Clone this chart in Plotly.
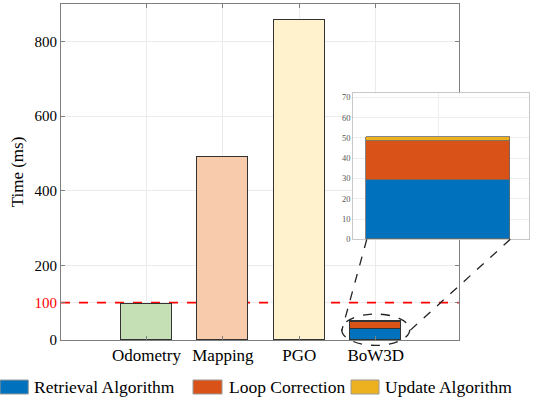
import plotly.graph_objects as go

# ---------------- data ----------------
categories = ["Odometry", "Mapping", "PGO", "BoW3D"]
module_times = [97, 490, 857]            # Odometry, Mapping, PGO (ms)
module_colors = ["#C5E0B4", "#F8CBAD", "#FFF2CC"]
bow3d_parts = ["Retrieval Algorithm", "Loop Correction", "Update Algorithm"]
bow3d_values = [29.1, 19.2, 1.8]          # ms
bow3d_colors = ["#0072BD", "#D95319", "#EDB120"]
y_tickvals = [0, 100, 200, 400, 600, 800]
inset_tickvals = [0, 10, 20, 30, 40, 50, 60, 70]
threshold = 100

FONT = "Liberation Serif, Times New Roman, serif"

# ---------------- geometry ----------------
W, H = 540, 403
ML, MR, MT, MB = 61, 5, 4, 63
XR = [-0.119, 5.09]
YR = [0, 900]
XDOM = [0, 0.8397]
IXR = [0.525, 1.506]
IYR = [0, 72]
IXDOM = [0.6167, 0.988]
IYDOM = [0.2997, 0.734]
BAR_W = 0.667
IBAR_W = 0.8

def main_to_paper(x, y):
    px = XDOM[0] + (x - XR[0]) / (XR[1] - XR[0]) * (XDOM[1] - XDOM[0])
    py = (y - YR[0]) / (YR[1] - YR[0])
    return px, py

def inset_to_paper(x, y):
    px = IXDOM[0] + (x - IXR[0]) / (IXR[1] - IXR[0]) * (IXDOM[1] - IXDOM[0])
    py = IYDOM[0] + (y - IYR[0]) / (IYR[1] - IYR[0]) * (IYDOM[1] - IYDOM[0])
    return px, py

def pix_to_paper_x(px):
    return (px - ML) / (W - ML - MR)

def pix_to_paper_y(py):
    return (H - MB - py) / (H - MB - MT)

fig = go.Figure()

# main bars
fig.add_trace(go.Bar(
    x=[1, 2, 3], y=module_times, width=BAR_W,
    marker=dict(color=module_colors, line=dict(color="#333333", width=1.5)),
    showlegend=False, xaxis="x", yaxis="y"))

# BoW3D stacked in main axis and inset
for name, val, col in zip(bow3d_parts, bow3d_values, bow3d_colors):
    fig.add_trace(go.Bar(
        x=[4], y=[val], width=BAR_W, name=name,
        marker=dict(color=col, line=dict(color="#333333", width=1.5)),
        showlegend=False, xaxis="x", yaxis="y"))
    fig.add_trace(go.Bar(
        x=[1], y=[val], width=IBAR_W, name=name,
        marker=dict(color=col, line=dict(color="#666666", width=0.8)),
        showlegend=False, xaxis="x2", yaxis="y2"))

ytext = [('<span style="color:#FF0000">%d</span>' % v) if v == threshold else str(v)
         for v in y_tickvals]

fig.update_layout(
    width=W, height=H,
    margin=dict(l=ML, r=MR, t=MT, b=MB),
    paper_bgcolor="white", plot_bgcolor="white",
    barmode="stack", bargap=0,
    font=dict(family=FONT, color="black"),
    xaxis=dict(domain=XDOM, range=XR, tickvals=[1, 2, 3, 4], ticktext=categories,
               tickfont=dict(size=17, color="black"),
               showgrid=True, gridcolor="#EBEBEB", gridwidth=1,
               showline=True, linecolor="#7F7F7F", linewidth=1, mirror="ticks",
               ticks="inside", ticklen=4, tickcolor="#7F7F7F", zeroline=False),
    yaxis=dict(domain=[0, 1], range=YR, tickvals=y_tickvals, ticktext=ytext,
               tickfont=dict(size=15, color="black"),
               title=dict(text="Time (ms)", font=dict(size=17), standoff=6),
               showgrid=True, gridcolor="#EBEBEB", gridwidth=1,
               showline=True, linecolor="#7F7F7F", linewidth=1, mirror="ticks",
               ticks="inside", ticklen=4, tickcolor="#7F7F7F", zeroline=False),
    xaxis2=dict(domain=IXDOM, range=IXR, anchor="y2", tickvals=[1], showticklabels=False,
                showgrid=True, gridcolor="#EEEEEE", showline=True, linecolor="#C8C8C8",
                mirror=True, ticks="", zeroline=False),
    yaxis2=dict(domain=IYDOM, range=IYR, anchor="x2", tickvals=inset_tickvals,
                tickfont=dict(size=8.5, color="#555555"),
                showgrid=True, gridcolor="#EEEEEE", showline=True, linecolor="#C8C8C8",
                mirror=True, ticks="", zeroline=False),
)

shapes = []
# threshold line (above grid, behind bars)
shapes.append(dict(type="line", xref="x", yref="y", x0=XR[0], x1=XR[1],
                   y0=threshold, y1=threshold, layer="between",
                   line=dict(color="#FF0000", width=1.6, dash="dash")))

# ellipse around BoW3D bar
ecx, ecy, erx, ery = 4, 27.5, 0.445, 42
ex0, ey0 = main_to_paper(ecx - erx, ecy - ery)
ex1, ey1 = main_to_paper(ecx + erx, ecy + ery)
shapes.append(dict(type="circle", xref="paper", yref="paper",
                   x0=ex0, y0=ey0, x1=ex1, y1=ey1,
                   line=dict(color="#222222", width=1.3, dash="dash")))

# connector lines from inset bar bottom corners to ellipse sides
for sgn in (-1, 1):
    ix, iy = inset_to_paper(1 + sgn * IBAR_W / 2, 0)
    mx, my = main_to_paper(ecx + sgn * erx, 24.8)
    shapes.append(dict(type="line", xref="paper", yref="paper",
                       x0=ix, y0=iy, x1=mx, y1=my,
                       line=dict(color="#222222", width=1.3, dash="dash")))

# custom legend
leg_rects = [(0, 28.3), (193, 222), (351, 379)]
leg_text_x = [32, 227, 383]
ry0, ry1 = pix_to_paper_y(394), pix_to_paper_y(380)
annotations = []
for (rx0, rx1), tx, name, col in zip(leg_rects, leg_text_x, bow3d_parts, bow3d_colors):
    shapes.append(dict(type="rect", xref="paper", yref="paper",
                       x0=pix_to_paper_x(rx0), x1=pix_to_paper_x(rx1), y0=ry0, y1=ry1,
                       fillcolor=col, line=dict(color="#9A9A9A", width=1)))
    annotations.append(dict(xref="paper", yref="paper", x=pix_to_paper_x(tx),
                            y=pix_to_paper_y(387), text=name, showarrow=False,
                            xanchor="left", yanchor="middle",
                            font=dict(size=17.5, color="black", family=FONT)))

fig.update_layout(shapes=shapes, annotations=annotations)
fig.write_html("out.html",
               config={"displayModeBar": False},
               post_script="document.body.style.margin='0px';document.body.style.overflow='hidden';")
